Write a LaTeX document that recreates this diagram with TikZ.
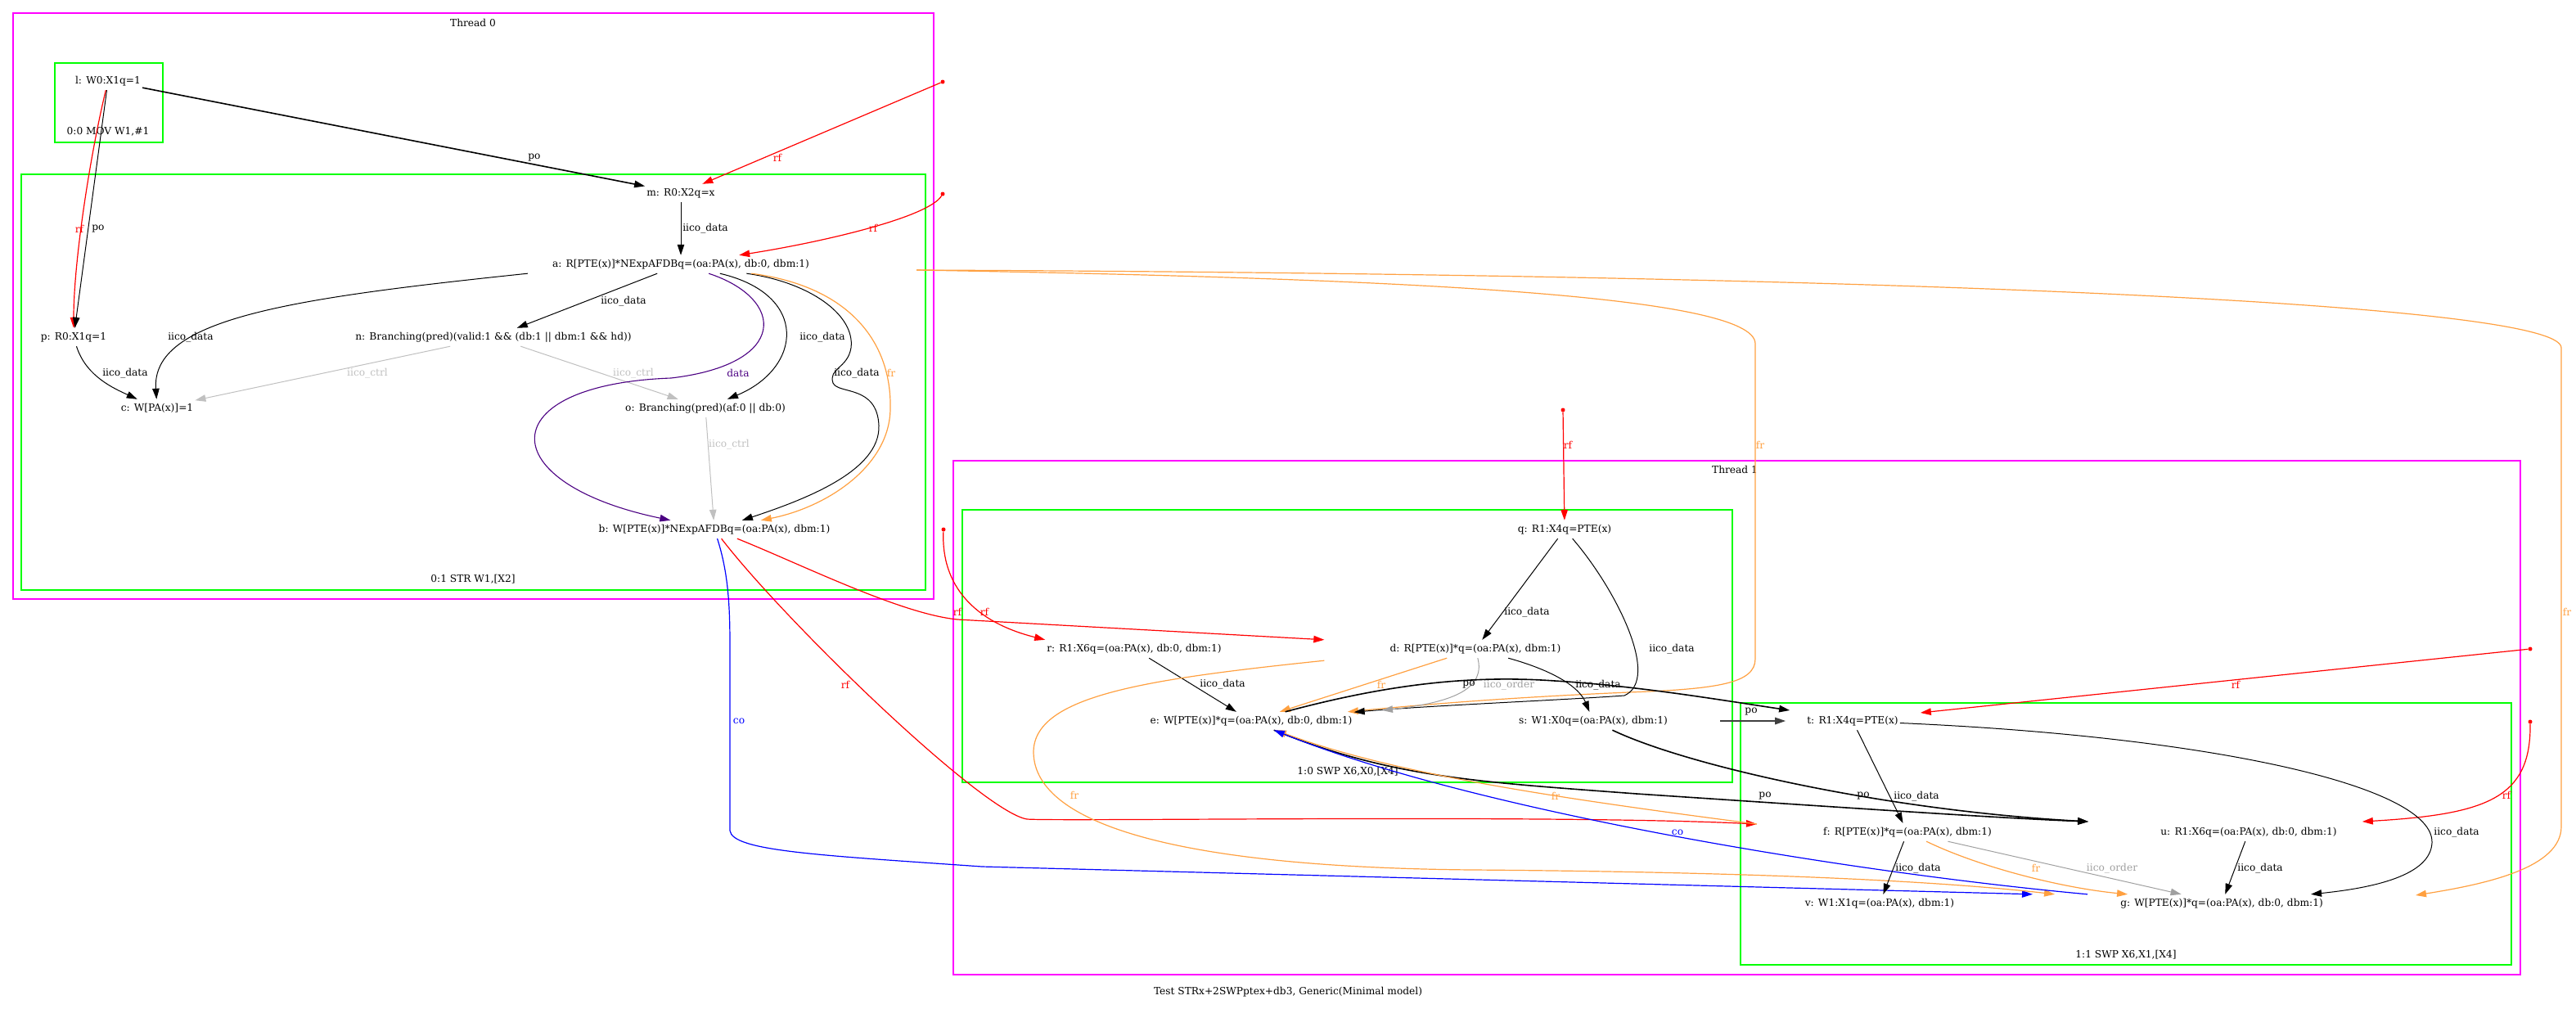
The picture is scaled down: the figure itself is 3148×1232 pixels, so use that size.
\documentclass[tikz,border=0pt]{standalone}
\usepackage{fontspec}
\setmainfont{DejaVu Serif}
\usetikzlibrary{arrows.meta,positioning}

\definecolor{frorange}{HTML}{FFA040}
\definecolor{ctrlgray}{HTML}{C0C0C0}
\definecolor{ordergray}{HTML}{A0A0A0}
\definecolor{depindigo}{HTML}{4B0082}
\definecolor{instrgreen}{HTML}{00FF00}
\definecolor{threadmagenta}{HTML}{FF00FF}

\begin{document}
\begin{tikzpicture}
    [x=1pt, y=-1pt, font=\fontsize{12.2}{14}\selectfont,
    >={Triangle[length=13pt,width=8.5pt]},
    % STYLES
    % The event style is used to write the events
    event/.style={inner sep=2pt, minimum height=22pt},
    % The thread and instr styles are used to draw the boxes
    thread/.style={draw=threadmagenta, line width=1.3pt},
    instr/.style={draw=instrgreen, line width=1.3pt},
    % The lbl style is used for the names of the relations
    lbl/.style={inner sep=1pt},
    % The init style is used for the dots where rf edges start
    init/.style={circle, fill=red, inner sep=0pt, minimum size=5pt},
    % The relation styles
    po/.style={->, line width=1.6pt},
    rf/.style={->, draw=red, line width=1.2pt},
    fr/.style={->, draw=frorange, line width=1.2pt},
    co/.style={->, draw=blue, line width=1.2pt},
    iicodata/.style={->, line width=1pt},
    iicoctrl/.style={->, draw=ctrlgray, line width=1pt},
    iicoorder/.style={->, draw=ordergray, line width=1pt},
    datadep/.style={->, draw=depindigo, line width=1.1pt}]

    \useasboundingbox (0,0) rectangle (3148,1232);

    % Draw boxes
    \draw[thread] (16,16) rectangle (1141,732);
    \draw[instr] (67,77) rectangle (199,174);
    \draw[instr] (26,213) rectangle (1131,721);
    \draw[thread] (1165,563) rectangle (3080,1191);
    \draw[instr] (1176,623) rectangle (2117,956);
    \draw[instr] (2127,859) rectangle (3069,1179);
    \node (thr0) at (578,28) {Thread 0};
    \node (ins00) at (132,161) {0:0 MOV W1,\#1};
    \node (ins01) at (578,708) {0:1 STR W1,[X2]};
    \node (thr1) at (2120,574) {Thread 1};
    \node (ins10) at (1647,943) {1:0 SWP X6,X0,[X4]};
    \node (ins11) at (2598,1167) {1:1 SWP X6,X1,[X4]};
    \node (title) at (1574,1212) {Test STRx+2SWPptex+db3, Generic(Minimal model)};

    % Draw events
    \node[event] (l) at (132,99) {l: W0:X1q=1};
    \node[event] (m) at (832,236) {m: R0:X2q=x};
    \node[event] (a) at (832,323) {a: R[PTE(x)]*NExpAFDBq=(oa:PA(x), db:0, dbm:1)};
    \node[event] (p) at (90,412) {p: R0:X1q=1};
    \node[event] (n) at (603,412) {n: Branching(pred)(valid:1 \&\& (db:1 || dbm:1 \&\& hd))};
    \node[event] (c) at (192,499) {c: W[PA(x)]=1};
    \node[event] (o) at (862,499) {o: Branching(pred)(af:0 || db:0)};
    \node[event] (b) at (873,647) {b: W[PTE(x)]*NExpAFDBq=(oa:PA(x), dbm:1)};

    \node[event] (q) at (1912,647) {q: R1:X4q=PTE(x)};
    \node[event] (r) at (1386,793) {r: R1:X6q=(oa:PA(x), db:0, dbm:1)};
    \node[event] (d) at (1803,793) {d: R[PTE(x)]*q=(oa:PA(x), dbm:1)};
    \node[event] (e) at (1529,881) {e: W[PTE(x)]*q=(oa:PA(x), db:0, dbm:1)};
    \node[event] (s) at (1947,881) {s: W1:X0q=(oa:PA(x), dbm:1)};
    \node[event] (t) at (2264,881) {t: R1:X4q=PTE(x)};
    \node[event] (f) at (2331,1017) {f: R[PTE(x)]*q=(oa:PA(x), dbm:1)};
    \node[event] (u) at (2748,1017) {u: R1:X6q=(oa:PA(x), db:0, dbm:1)};
    \node[event] (v) at (2297,1104) {v: W1:X1q=(oa:PA(x), dbm:1)};
    \node[event] (g) at (2715,1104) {g: W[PTE(x)]*q=(oa:PA(x), db:0, dbm:1)};

    % Draw the initial writes
    \node[init] (initm) at (1152,100) {};
    \node[init] (inita) at (1152,237) {};
    \node[init] (initq) at (1910,501) {};
    \node[init] (initr) at (1153,647) {};
    \node[init] (initt) at (3092,793) {};
    \node[init] (initu) at (3092,882) {};
    \coordinate (afr) at (1120,330);

    % Draw the links between events of thread 0
    \draw[po] (l) -- (m) node[lbl] at (653,193) {po};
    \draw[rf] (l) .. controls (110,190) and (90,320) .. (p) node[lbl,text=red] at (97,280) {rf};
    \draw[iicodata] (l) -- (p) node[lbl] at (120,280) {po};
    \draw[rf] (initm) -- (m) node[lbl,text=red] at (950,193) {rf};
    \draw[iicodata] (m) -- (a) node[lbl] at (862,279) {iico\_data};
    \draw[rf] (inita) .. controls (1135,265) and (1010,295) .. (a) node[lbl,text=red] at (1067,279) {rf};
    \draw[iicodata] (a) -- (n) node[lbl] at (762,368) {iico\_data};
    \draw[iicodata] ([xshift=-28pt]a.south west) .. controls (350,365) and (185,390) .. (c) node[lbl] at (233,412) {iico\_data};
    \draw[iicodata] (p) .. controls (105,460) and (140,475) .. (c) node[lbl] at (153,456) {iico\_data};
    \draw[iicoctrl] (n) -- (c) node[lbl,text=ctrlgray] at (449,456) {iico\_ctrl};
    \draw[iicoctrl] (n) -- (o) node[lbl,text=ctrlgray] at (774,456) {iico\_ctrl};
    \draw[iicodata] (a) .. controls (990,360) and (980,450) .. (o) node[lbl] at (1005,412) {iico\_data};
    \draw[datadep] (a) .. controls (960,365) and (965,445) .. (820,462) .. controls (600,470) and (600,590) .. (b) node[lbl,text=depindigo] at (902,456) {data};
    \draw[iicodata] (a) .. controls (990,345) and (1045,385) .. (1040,425) .. controls (1036,450) and (1012,450) .. (1018,468) .. controls (1024,482) and (1072,470) .. (1074,520) .. controls (1076,575) and (985,610) .. (b) node[lbl] at (1047,456) {iico\_data};
    \draw[fr] (a) .. controls (1040,350) and (1090,420) .. (1088,500) .. controls (1087,570) and (1010,620) .. (b) node[lbl,text=frorange] at (1089,456) {fr};
    \draw[iicoctrl] (o) -- (b) node[lbl,text=ctrlgray] at (891,543) {iico\_ctrl};

    % Draw the links from thread 0 to thread 1
    \draw[fr] (afr) .. controls (1700,340) and (2145,360) .. (2145,420) -- (2145,805) .. controls (2145,835) and (2100,842) .. (1990,846) .. controls (1850,852) and (1750,860) .. (e) node[lbl,text=frorange] at (2151,544) {fr};
    \draw[fr] (afr) .. controls (2300,335) and (3130,370) .. (3130,425) -- (3130,1010) .. controls (3130,1060) and (3040,1080) .. ([xshift=237pt,yshift=10pt]g.center) node[lbl,text=frorange] at (3137,748) {fr};
    \draw[rf] (b) .. controls (980,690) and (1100,750) .. (1170,757) -- ([xshift=-78pt]d.north west) node[lbl,text=red] at (1170,748) {rf};
    \draw[rf] (b) .. controls (960,760) and (1200,992) .. (1255,1001) .. controls (1300,1004) and (1900,995) .. ([xshift=-79pt,yshift=10pt]f.west) node[lbl,text=red] at (1033,837) {rf};
    \draw[co] (b) .. controls (890,700) and (892,740) .. (892,790) -- (892,1015) .. controls (895,1040) and (1000,1045) .. (1200,1059) -- ([xshift=-105pt]g.north west) node[lbl,text=blue] at (903,881) {co};

    % Draw the links between events of thread 1
    \draw[rf] (initq) -- (q) node[lbl,text=red] at (1916,544) {rf};
    \draw[rf] (initr) .. controls (1150,715) and (1190,760) .. (r.north west) node[lbl,text=red] at (1203,748) {rf};
    \draw[iicodata] (q) -- (d) node[lbl] at (1866,748) {iico\_data};
    \draw[iicodata] (q) .. controls (1975,720) and (2030,830) .. (1985,850) .. controls (1900,856) and (1750,862) .. (e) node[lbl] at (2043,793) {iico\_data};
    \draw[iicodata] (r) -- (e) node[lbl] at (1494,836) {iico\_data};
    \draw[fr] (d) -- (e) node[lbl,text=frorange] at (1688,837) {fr};
    \draw[iicoorder] (d) .. controls (1815,840) and (1780,858) .. ([xshift=160pt,yshift=13pt]e.center) node[lbl,text=ordergray] at (1844,837) {iico\_order};
    \draw[iicodata] (d) .. controls (1900,820) and (1930,840) .. (s) node[lbl] at (1953,837) {iico\_data};
    \draw[po] (e) .. controls (1700,835) and (1800,825) .. (1900,832) .. controls (2000,838) and (2100,855) .. ([xshift=-19pt,yshift=13pt]t.west) node[lbl] at (1795,837) {po};
    \draw[po, draw=black!75] ([xshift=62pt]s.east) -- ([xshift=-24pt]t.west) node[lbl] at (2140,870) {po};
    \draw[po] (e) .. controls (1700,950) and (1800,955) .. (2000,970) .. controls (2300,990) and (2450,1000) .. ([xshift=-86pt,yshift=13pt]u.west) node[lbl] at (2157,973) {po};
    \draw[po] (s) .. controls (2060,935) and (2300,990) .. ([xshift=-86pt,yshift=13pt]u.west) node[lbl] at (2277,973) {po};
    \draw[fr] ([xshift=-78pt,yshift=-3pt]d.south west) .. controls (1400,830) and (1262,850) .. (1263,920) .. controls (1265,1010) and (1450,1060) .. (1800,1063) .. controls (2200,1066) and (2400,1080) .. ([xshift=-78pt]g.north west) node[lbl,text=frorange] at (1313,972) {fr};
    \draw[fr] ([xshift=-79pt,yshift=10pt]f.west) .. controls (1900,975) and (1700,945) .. (e) node[lbl,text=frorange] at (1901,973) {fr};
    \draw[co] ([xshift=-38pt]g.north west) .. controls (2250,1065) and (1800,990) .. (e) node[lbl,text=blue] at (2050,1017) {co};
    \draw[rf] (initt) -- ([xshift=25pt,yshift=10pt]t.east) node[lbl,text=red] at (2732,837) {rf};
    \draw[rf] (initu) .. controls (3093,975) and (3040,995) .. ([xshift=29pt,yshift=13pt]u.east) node[lbl,text=red] at (3063,972) {rf};
    \draw[iicodata] (t) -- (f) node[lbl] at (2342,973) {iico\_data};
    \draw[iicodata] (t) .. controls (2700,900) and (2975,960) .. (2972,1030) .. controls (2970,1070) and (2900,1085) .. (g) node[lbl] at (3002,1017) {iico\_data};
    \draw[iicodata] (f) -- (v) node[lbl] at (2344,1061) {iico\_data};
    \draw[fr] (f) .. controls (2420,1060) and (2520,1085) .. (g) node[lbl,text=frorange] at (2488,1061) {fr};
    \draw[iicoorder] (f) -- (g) node[lbl,text=ordergray] at (2581,1061) {iico\_order};
    \draw[iicodata] (u) -- (g) node[lbl] at (2762,1061) {iico\_data};
\end{tikzpicture}
\end{document}
